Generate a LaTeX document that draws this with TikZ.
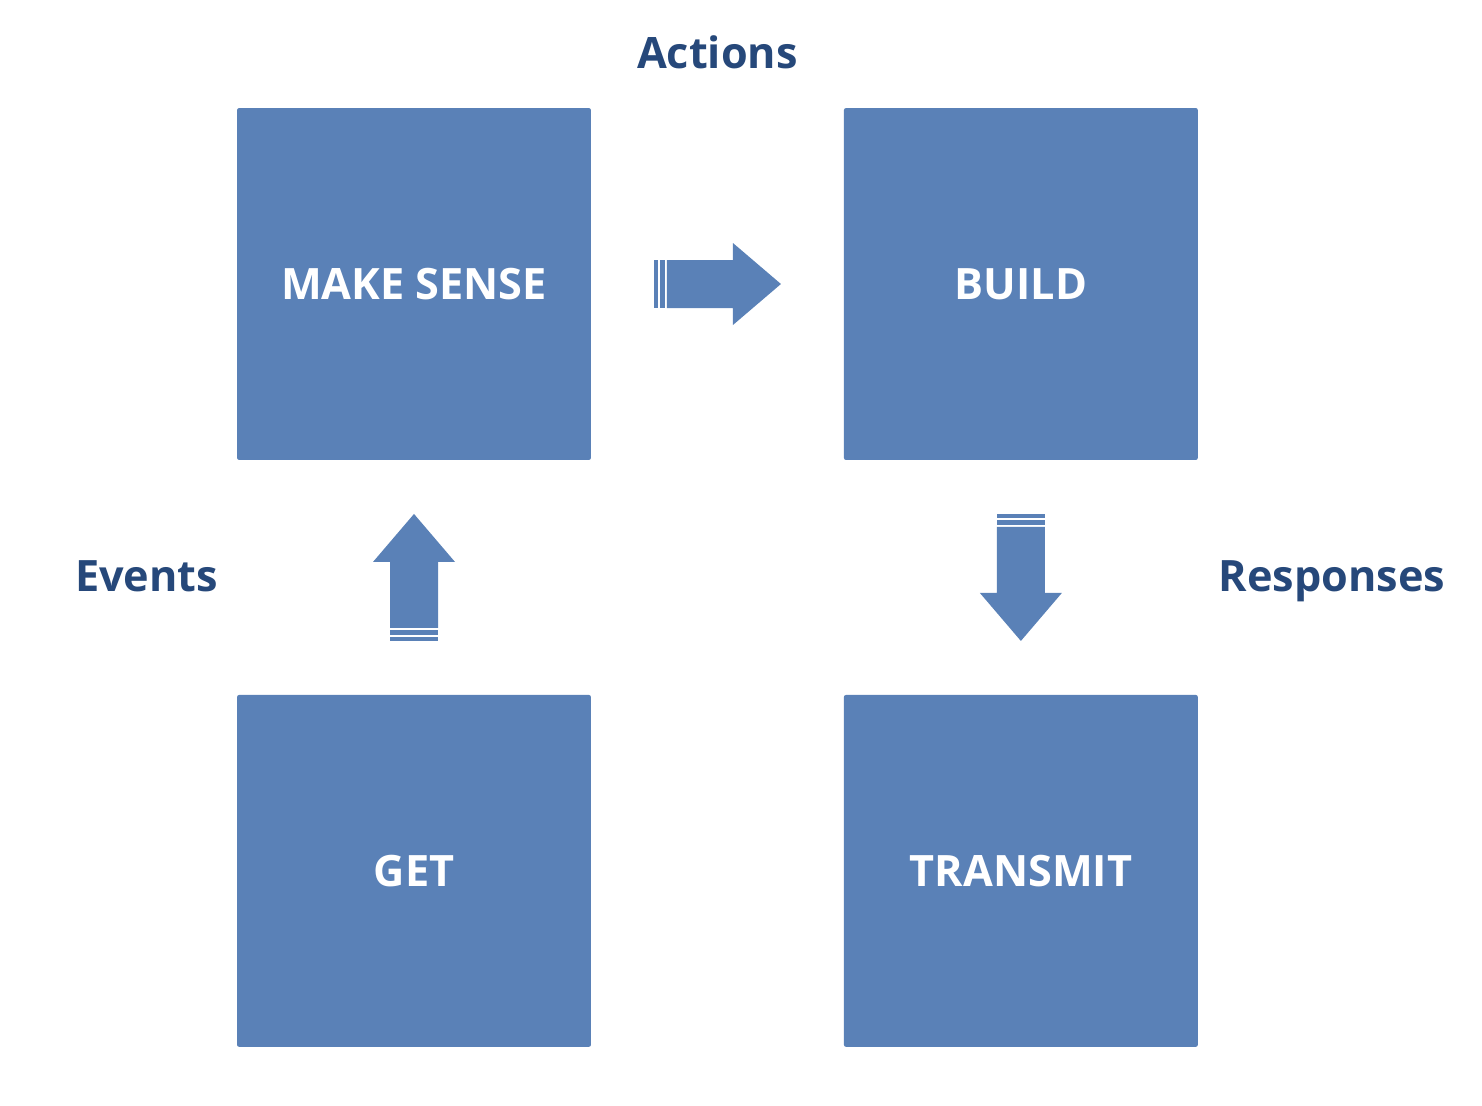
\documentclass[tikz,border=0pt]{standalone}
\usepackage{fontspec}
\setmainfont{Open Sans}
\usetikzlibrary{positioning,calc}

\definecolor{boxblue}{RGB}{90,129,183}
\definecolor{labelblue}{RGB}{38,72,122}

\tikzset{
  stage/.style={fill=boxblue, rounded corners=1.2pt, minimum width=7.08cm,
    minimum height=7.04cm, inner sep=0pt, text=white,
    font=\fontsize{24.6}{30}\selectfont\bfseries},
  phase/.style={text=labelblue, inner sep=0pt, anchor=base,
    font=\fontsize{24.6}{30}\selectfont\bfseries},
  striped arrow/.pic={
    \fill[boxblue] (-63.5,-24) rectangle (-59.5,24);
    \fill[boxblue] (-57.5,-24) rectangle (-52.5,24);
    \fill[boxblue] (-50.5,-24) -- (15.5,-24) -- (15.5,-41) -- (63.5,0)
      -- (15.5,41) -- (15.5,24) -- (-50.5,24) -- cycle;
  }
}

\begin{document}
\begin{tikzpicture}[x=0.02cm,y=-0.02cm,on grid]
  \useasboundingbox (0,0) rectangle (1482,1106);
  \node[stage] (sense) at (414,284)               {MAKE SENSE};
  \node[stage] (build)    [right=12.14cm of sense] {BUILD};
  \node[stage] (get)      [below=11.74cm of sense] {GET};
  \node[stage] (transmit) [right=12.14cm of get]   {TRANSMIT};
  % midpoints between the boxes
  \coordinate (top)   at ($(sense)!0.5!(build)$);
  \coordinate (left)  at ($(sense)!0.5!(get)$);
  \coordinate (right) at ($(build)!0.5!(transmit)$);
  \pic at (top)   {striped arrow};
  \pic[rotate=90]  at (left)  {striped arrow};
  \pic[rotate=-90] at (right) {striped arrow};
  % labels sit on their baselines
  \node[phase] (actions)   at ($(top)+(0,-216)$)        {Actions};
  \node[phase] (events)    at ($(left)+(-267.5,14.5)$)  {Events};
  \node[phase] (responses) at ($(right)+(311,14.5)$)    {Responses};
\end{tikzpicture}
\end{document}
